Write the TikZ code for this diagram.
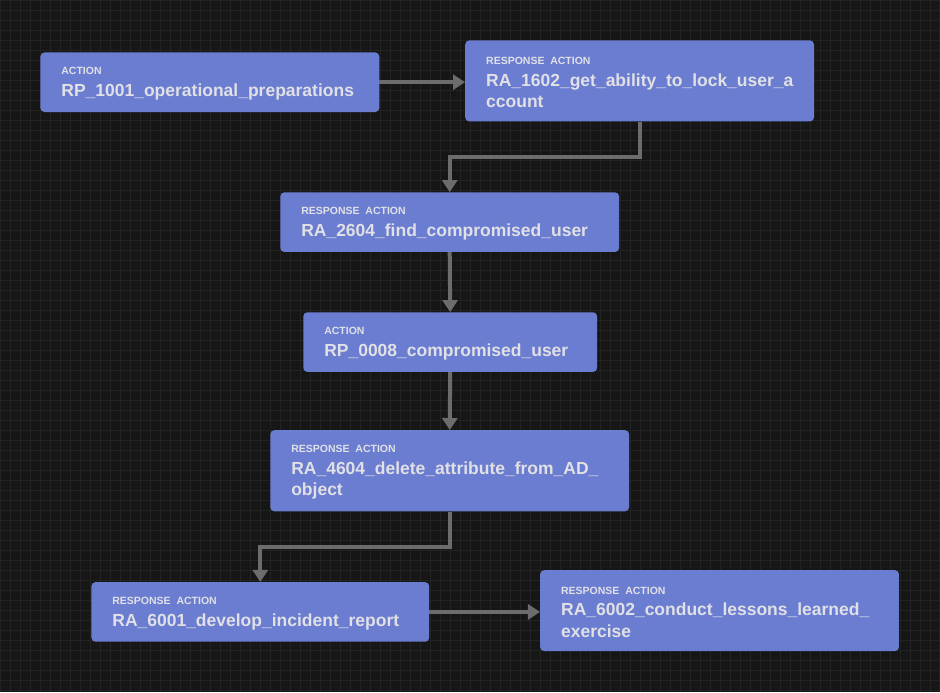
\documentclass[tikz,border=0pt]{standalone}
\usepackage{fontspec}
\setmainfont{Liberation Sans}
\usetikzlibrary{arrows.meta}

\definecolor{canvas}{HTML}{161616}
\definecolor{gridgray}{HTML}{232323}
\definecolor{boxblue}{HTML}{6A7DD0}
\definecolor{boxtext}{HTML}{E0E0E6}
\definecolor{flowgray}{HTML}{6C6C6C}

% kind of step above, step name below
\newcommand{\steptext}[2]{{\fontsize{10.5}{21.5}\selectfont\rule{0pt}{10.5pt}#1}\\#2}

\begin{document}
\begin{tikzpicture}[x=1pt, y=-1pt,
    actbox/.style={rectangle, rounded corners=4pt, fill=boxblue, text=boxtext,
        anchor=north west, align=left, inner xsep=21pt, inner ysep=12pt,
        font=\fontsize{17.5}{21.5}\selectfont\bfseries},
    flow/.style={line width=4pt, draw=flowgray, -{Triangle[length=12pt, width=15pt]}}]
    % Background with grid
    \fill[canvas] (0,0) rectangle (940,692);
    \draw[gridgray, line width=0.5pt, step=10pt] (0pt,0pt) grid (940pt,-692pt);
    \useasboundingbox (0,0) rectangle (940,692);

    % Steps
    \node[actbox, text width=297pt] (rp1001) at (40,52) {\steptext{ACTION}{RP\_1001\_operational\_preparations}};
    \node[actbox, text width=307pt, minimum height=81pt] (ra1602) at (465,40) {\steptext{RESPONSE ACTION}{RA\_1602\_get\_ability\_to\_lock\_user\_a\\ccount}};
    \node[actbox, text width=297pt] (ra2604) at (280,192) {\steptext{RESPONSE ACTION}{RA\_2604\_find\_compromised\_user}};
    \node[actbox, text width=252pt] (rp0008) at (303,312) {\steptext{ACTION}{RP\_0008\_compromised\_user}};
    \node[actbox, text width=317pt, minimum height=81pt] (ra4604) at (270,430) {\steptext{RESPONSE ACTION}{RA\_4604\_delete\_attribute\_from\_AD\_\\object}};
    \node[actbox, text width=296pt] (ra6001) at (91,582) {\steptext{RESPONSE ACTION}{RA\_6001\_develop\_incident\_report}};
    \node[actbox, text width=317pt, minimum height=81pt] (ra6002) at (540,570) {\steptext{RESPONSE ACTION}{RA\_6002\_conduct\_lessons\_learned\_\\exercise}};

    % Flow between steps
    \draw[flow] (rp1001.east) -- (rp1001.east -| ra1602.west);
    \draw[flow] (ra1602.south) -- ++(0,35) -| (ra2604.north);
    \draw[flow] (ra2604.south) -- (rp0008.north);
    \draw[flow] (rp0008.south) -- (ra4604.north);
    \draw[flow] (ra4604.south) -- ++(0,36) -| (ra6001.north);
    \draw[flow] (ra6001.east) -- (ra6001.east -| ra6002.west);
\end{tikzpicture}
\end{document}
